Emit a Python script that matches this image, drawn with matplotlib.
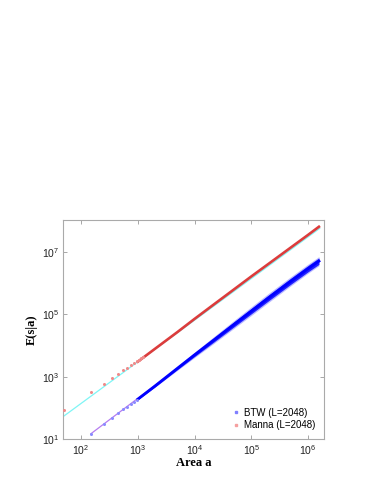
import numpy as np
import matplotlib.pyplot as plt

plt.rcParams['font.family'] = ['Liberation Sans', 'DejaVu Sans']
plt.rcParams['mathtext.fontset'] = 'custom'
plt.rcParams['mathtext.rm'] = 'Liberation Sans'

# Manna (L=2048): isolated bins at small area, then a dense band
manna_a = [50, 150, 250, 350, 450, 550, 650, 750, 850, 950, 1050, 1150, 1250]
manna_E = [89, 316, 589, 891, 1230, 1622, 1950, 2399, 2754, 3090, 3500, 3900, 4350]
manna_band_a = [1e3, 2e3, 5e3, 1e4, 2e4, 5e4, 1e5, 2e5, 5e5, 1e6, 1.55e6]
manna_band_E = [3020, 7760, 2.69e4, 7.08e4, 1.82e5, 6.31e5, 1.62e6, 4.07e6, 1.38e7, 3.47e7, 6.3e7]

# BTW (L=2048)
btw_a = [150, 250, 350, 450, 550, 650, 750, 850, 950]
btw_E = [15.1, 30.2, 47.9, 69.2, 89.1, 110, 132, 151, 178]
btw_band_a = [1e3, 2e3, 5e3, 1e4, 2e4, 5e4, 1e5, 2e5, 5e5, 1e6, 1.55e6]
btw_band_E = [190, 500, 1860, 5000, 1.32e4, 4.79e4, 1.26e5, 3.31e5, 1.15e6, 2.88e6, 5.0e6]
btw_spread = [1.04, 1.07, 1.10, 1.13, 1.16, 1.2, 1.22, 1.24, 1.25, 1.26, 1.27]
btw_scatter = [1.06, 1.1, 1.16, 1.22, 1.28, 1.34, 1.38, 1.4, 1.4, 1.4, 1.4]

# power-law fits
manna_fit_a = [50, 1.6e6]
manna_fit_E = [55, 5.6e7]
btw_fit_a = [150, 1.6e6]
btw_fit_E = [15, 5.0e6]

fig = plt.figure(figsize=(3.82, 4.94), dpi=100)
ax = fig.add_axes([0.166, 0.111, 0.682, 0.444])

ax.plot(manna_fit_a, manna_fit_E, color='#7ff5f5', lw=0.9, zorder=1)
ax.plot(btw_fit_a, btw_fit_E, color='#b57cf0', lw=0.9, zorder=1)

# BTW band: faint outer scatter, solid core
band = np.array(btw_band_E)
ax.fill_between(btw_band_a, band / np.array(btw_scatter), band * np.array(btw_scatter),
                color='#4040ff', alpha=0.35, lw=0, zorder=2)
ax.fill_between(btw_band_a, band / np.array(btw_spread), band * np.array(btw_spread),
                color='#1010ff', alpha=0.9, lw=0, zorder=2)
ax.plot(btw_band_a, btw_band_E, color='#0000ff', lw=2.0, zorder=3)
ax.plot(btw_a, btw_E, 'o', ms=2.2, color='#8a8aff', mec='none', zorder=3)

# Manna band
ax.plot(manna_band_a, manna_band_E, color='#dc3c3c', lw=1.9, zorder=3)
ax.plot(manna_a, manna_E, 'o', ms=2.2, color='#f08a8a', mec='none', zorder=3)

# legend proxies
ax.plot([], [], 's', ms=2, color='#8080ff', label='BTW (L=2048)')
ax.plot([], [], 's', ms=2, color='#f5a0a0', label='Manna (L=2048)')

ax.set_xscale('log')
ax.set_yscale('log')
ax.set_xlim(49, 1.9e6)
ax.set_ylim(10, 1.05e8)
ax.set_xticks([1e2, 1e3, 1e4, 1e5, 1e6])
ax.set_yticks([1e1, 1e3, 1e5, 1e7])
ax.minorticks_off()
ax.tick_params(which='both', direction='in', top=True, right=True,
               length=3, width=0.6, color='#999999', labelsize=7.5,
               labelcolor='#222222', pad=3)
for s in ax.spines.values():
    s.set_color('#aaaaaa')
    s.set_linewidth(0.8)

ax.set_xlabel('Area a', family='Liberation Serif', fontweight='bold', fontsize=9, labelpad=0)
ax.set_ylabel('E(s|a)', family='Liberation Serif', fontweight='bold', fontsize=9, labelpad=3)

ax.legend(loc='lower left', frameon=False, fontsize=7, handlelength=0.6,
          handletextpad=0.5, labelspacing=0.25, borderaxespad=0, borderpad=0,
          bbox_to_anchor=(0.651, 0.041))

fig.savefig('out.png', dpi=100)
